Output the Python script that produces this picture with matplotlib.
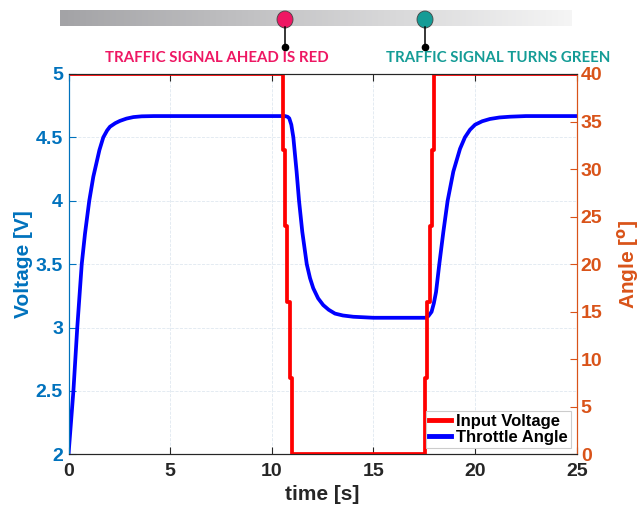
import numpy as np
import matplotlib.pyplot as plt
from matplotlib.colors import LinearSegmentedColormap
from matplotlib.patches import Ellipse
from matplotlib.lines import Line2D

# throttle angle response (left axis, volts)
throttle_t = [0, 0.12, 0.24, 0.43, 0.65, 0.81, 1.02, 1.22, 1.52, 1.71, 1.9, 2.04, 2.3, 2.53,
              2.85, 3.19, 3.6, 4.2,
              10.65, 10.78, 10.86, 10.96, 11.06, 11.22, 11.34, 11.50, 11.72, 11.88, 12.04, 12.28,
              12.53, 12.8, 13.11, 13.5, 14.01, 15.0,
              17.55, 17.7, 17.86, 17.97, 18.08, 18.24, 18.44, 18.65, 18.93, 19.26, 19.5, 19.75,
              20.0, 20.35, 20.73, 21.2, 21.72, 22.5, 25]
throttle_v = [2.0, 2.25, 2.5, 3.0, 3.5, 3.74, 4.0, 4.19, 4.40, 4.50, 4.555, 4.584, 4.612, 4.63,
              4.648, 4.66, 4.666, 4.668,
              4.668, 4.662, 4.65, 4.6, 4.5, 4.23, 4.0, 3.755, 3.5, 3.39, 3.31, 3.23,
              3.177, 3.14, 3.11, 3.095, 3.085, 3.077,
              3.077, 3.09, 3.124, 3.19, 3.28, 3.5, 3.755, 4.0, 4.23, 4.41, 4.5, 4.56,
              4.6, 4.627, 4.645, 4.657, 4.663, 4.668, 4.668]

# input voltage staircase (right axis, degrees)
input_t = [0, 10.55, 10.65, 10.76, 10.90, 10.98, 17.56, 17.63, 17.76, 17.87, 17.97, 25]
input_v = [40, 32, 24, 16, 8, 0, 8, 16, 24, 32, 40, 40]

x_ticks = [0, 5, 10, 15, 20, 25]
left_ticks = [2, 2.5, 3, 3.5, 4, 4.5, 5]
left_labels = ['2', '2.5', '3', '3.5', '4', '4.5', '5']
right_ticks = [0, 5, 10, 15, 20, 25, 30, 35, 40]

signal_labels = ['TRAFFIC SIGNAL AHEAD IS RED', 'TRAFFIC SIGNAL TURNS GREEN']
signal_colors = ['#ee1763', '#149c96']

blue_txt = '#0072bd'
orange_txt = '#d95319'
dark = '#262626'
arial = ['Liberation Sans', 'DejaVu Sans']

fig = plt.figure(figsize=(6.41, 5.13), dpi=100)

# decoration on top (pixel coords)
deco = fig.add_axes([0, 0, 1, 1], zorder=-1)
cmap = LinearSegmentedColormap.from_list('bar', ['#a3a3a6', '#f5f5f5'])
deco.imshow(np.linspace(0, 1, 256)[None, :], cmap=cmap, extent=(60, 572, 26, 10), aspect='auto')
sig_x = [285, 425]
txt_x = [217, 498]
for i in range(2):
    deco.plot([sig_x[i], sig_x[i]], [27, 47], color='k', lw=1.1)
    deco.plot(sig_x[i], 47, 'o', ms=4.5, color='k')
    deco.add_patch(Ellipse((sig_x[i], 19.5), 16, 17, fc=signal_colors[i], ec='#444444', lw=0.6))
    deco.text(txt_x[i], 58, signal_labels[i], ha='center', va='center', color=signal_colors[i],
              fontsize=10.8, fontweight='bold', family=['Lato', 'DejaVu Sans'])
deco.set_xlim(0, 641)
deco.set_ylim(513, 0)
deco.axis('off')

ax = fig.add_axes([0.1069, 0.1144, 0.7928, 0.7414])
ax2 = ax.twinx()

ax.plot(throttle_t, throttle_v, color='#0000ff', lw=2.7)
ax2.step(input_t, input_v, where='post', color='#ff0000', lw=2.7)

ax.set_xlim(0, 25)
ax.set_ylim(2, 5)
ax2.set_ylim(0, 40)

ax.set_xticks(x_ticks)
ax.set_xticklabels([str(v) for v in x_ticks], fontsize=14, fontweight='bold', color=dark, family=arial)
ax.set_yticks(left_ticks)
ax.set_yticklabels(left_labels, fontsize=14, fontweight='bold', color=blue_txt, family=arial)
ax2.set_yticks(right_ticks)
ax2.set_yticklabels([str(v) for v in right_ticks], fontsize=14, fontweight='bold', color=orange_txt, family=arial)

ax.tick_params(axis='x', direction='in', length=5, top=True, color=dark, pad=6)
ax.tick_params(axis='y', direction='in', length=5, color=blue_txt, pad=4)
ax2.tick_params(axis='y', direction='in', length=5, color=orange_txt, pad=3)

ax.grid(True, ls='--', lw=0.6, color='#dfe8f0')
ax.set_axisbelow(True)

for a in (ax, ax2):
    a.spines['bottom'].set_color(dark)
    a.spines['top'].set_color(dark)
    a.spines['left'].set_color(blue_txt)
    a.spines['right'].set_color(orange_txt)

ax.set_xlabel('time [s]', fontsize=15, fontweight='bold', color=dark, family=arial, labelpad=4)
ax.set_ylabel('Voltage [V]', fontsize=15, fontweight='bold', color=blue_txt, family=arial, labelpad=2)
ax2.set_ylabel(r'Angle [$^{\mathbf{o}}$]', fontsize=15, fontweight='bold', color=orange_txt,
               family=arial, labelpad=9)

handles = [Line2D([], [], color='#ff0000', lw=3.5), Line2D([], [], color='#0000ff', lw=3.5)]
leg = ax2.legend(handles, ['Input Voltage', 'Throttle Angle'], loc='lower right',
                 prop={'family': arial, 'weight': 'bold', 'size': 12},
                 fancybox=False, framealpha=1, edgecolor='#cccccc',
                 handlelength=1.3, handletextpad=0.3, borderpad=0.2, labelspacing=0.05,
                 borderaxespad=0.35)
leg.get_frame().set_linewidth(0.8)

fig.savefig('out.png', dpi=100)
